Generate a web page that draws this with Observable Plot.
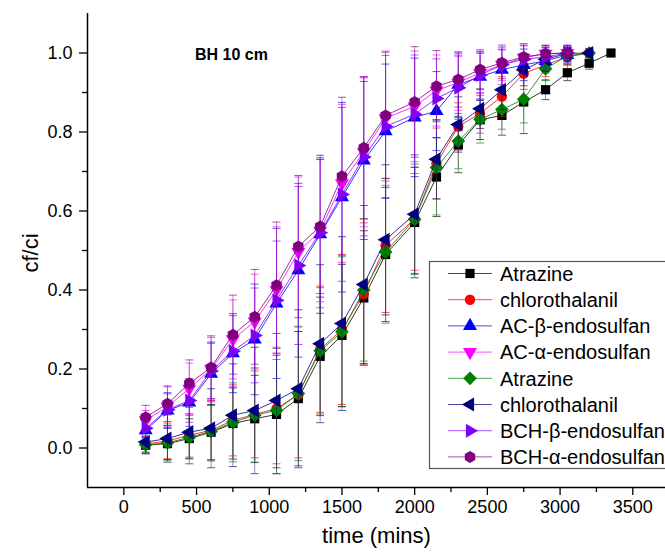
<!DOCTYPE html>
<html><head><meta charset="utf-8">
<script src="https://cdn.jsdelivr.net/npm/d3@7"></script>
<script src="https://cdn.jsdelivr.net/npm/@observablehq/plot@0.6"></script>
<style>
body{margin:0;background:#fff}
#chart{position:relative;width:665px;height:556px;overflow:hidden;background:#fff}
</style>
</head><body><div id="chart"></div>
<script>
// ---------------- data ----------------
const times = [150,300,450,600,750,900,1050,1200,1350,1500,1650,1800,2000,2150,2300,2450,2600,2750,2900,3050,3200,3350];

const seriesNames = ["Atrazine","chlorothalanil","AC-β-endosulfan","AC-α-endosulfan","Atrazine","chlorothalanil","BCH-β-endosulfan","BCH-α-endosulfan"];
const seriesColors = ["#000000","#ff0000","#0000ff","#ff00ff","#008000","#000080","#8000ff","#800080"];
const seriesSymbols = ["square","circle","triangleUp","triangleDown","diamond","triangleLeft","triangleRight","hexagon"];

const atrazineAC   = [0.007,0.011,0.024,0.040,0.062,0.074,0.085,0.125,0.232,0.285,0.380,0.490,0.571,0.686,0.767,0.831,0.842,0.876,0.907,0.950,0.974,1.000];
const chloroAC     = [0.010,0.018,0.032,0.045,0.070,0.085,0.100,0.135,0.250,0.300,0.390,0.513,0.580,0.720,0.814,0.847,0.890,0.948,0.970,0.990,1.000];
const betaAC       = [0.045,0.095,0.115,0.188,0.240,0.275,0.366,0.450,0.541,0.635,0.728,0.802,0.837,0.853,0.920,0.940,0.958,0.970,0.980,0.995];
const alphaAC      = [0.070,0.105,0.150,0.200,0.275,0.320,0.400,0.496,0.550,0.670,0.750,0.835,0.865,0.905,0.925,0.950,0.970,0.988,0.998,1.000];
const atrazineBCH  = [0.008,0.013,0.027,0.042,0.065,0.083,0.095,0.138,0.246,0.294,0.400,0.496,0.579,0.710,0.777,0.832,0.857,0.883,0.960,0.993,1.000];
const chloroBCH    = [0.015,0.024,0.040,0.050,0.083,0.095,0.120,0.150,0.264,0.315,0.414,0.527,0.592,0.731,0.819,0.859,0.907,0.957,0.984,0.999,1.000];
const betaBCH      = [0.050,0.097,0.120,0.195,0.245,0.285,0.374,0.462,0.545,0.642,0.737,0.814,0.845,0.885,0.912,0.944,0.970,0.984,0.990,1.000];
const alphaBCH     = [0.078,0.112,0.163,0.204,0.287,0.332,0.412,0.510,0.561,0.688,0.760,0.842,0.876,0.916,0.933,0.958,0.975,0.990,0.998,1.000];

const errAtrazineAC  = [0.02,0.04,0.05,0.07,0.09,0.11,0.15,0.17,0.15,0.18,0.17,0.17,0.14,0.10,0.07,0.05,0.05,0.08,0.025,0.02,0.015,0.005];
const errChloroAC    = [0.02,0.045,0.055,0.075,0.09,0.11,0.14,0.16,0.16,0.19,0.18,0.17,0.13,0.09,0.06,0.05,0.05,0.04,0.03,0.02,0.01];
const errBetaAC      = [0.02,0.045,0.06,0.08,0.10,0.14,0.19,0.22,0.20,0.24,0.20,0.17,0.15,0.10,0.08,0.06,0.05,0.04,0.03,0.02];
const errAlphaAC     = [0.025,0.05,0.065,0.08,0.10,0.12,0.16,0.19,0.18,0.20,0.19,0.17,0.14,0.09,0.07,0.05,0.04,0.03,0.02,0.015];
const errAtrazineBCH = [0.02,0.045,0.055,0.075,0.10,0.12,0.16,0.17,0.16,0.19,0.18,0.18,0.14,0.12,0.07,0.06,0.05,0.06,0.03,0.02,0.01];
const errChloroBCH   = [0.03,0.06,0.08,0.10,0.13,0.16,0.17,0.20,0.20,0.22,0.20,0.19,0.15,0.10,0.07,0.05,0.05,0.04,0.03,0.02,0.01];
const errBetaBCH     = [0.02,0.04,0.055,0.07,0.09,0.12,0.15,0.20,0.19,0.22,0.20,0.18,0.15,0.10,0.08,0.06,0.05,0.04,0.03,0.02];
const errAlphaBCH    = [0.03,0.045,0.06,0.08,0.10,0.12,0.16,0.18,0.17,0.20,0.18,0.16,0.14,0.09,0.07,0.05,0.04,0.03,0.02,0.015];

const seriesValues = [atrazineAC, chloroAC, betaAC, alphaAC, atrazineBCH, chloroBCH, betaBCH, alphaBCH];
const seriesErrors = [errAtrazineAC, errChloroAC, errBetaAC, errAlphaAC, errAtrazineBCH, errChloroBCH, errBetaBCH, errAlphaBCH];

const xTicks = [0,500,1000,1500,2000,2500,3000,3500];
const xMinorTicks = [250,750,1250,1750,2250,2750,3250];
const yTicks = [0,0.2,0.4,0.6,0.8,1.0];
const yMinorTicks = [0.1,0.3,0.5,0.7,0.9];
const xDomain = [-250, 3725];
const yDomain = [-0.1, 1.1];
const xTitle = "time (mins)";
const yTitle = "cf/ci";
const annotation = [{label: "BH 10 cm", t: 740, v: 0.995}];

// ---------------- symbols ----------------
const s3 = Math.sqrt(3);
function triSym(rot) {
  return {draw(ctx, size) {
    const y = -Math.sqrt(size / (s3 * 3));
    let pts = [[0, y * 2], [-s3 * y, -y], [s3 * y, -y]];
    pts = pts.map(([px, py]) => rot === "down" ? [px, -py] : rot === "left" ? [py, px] : rot === "right" ? [-py, px] : [px, py]);
    ctx.moveTo(pts[0][0], pts[0][1]);
    ctx.lineTo(pts[1][0], pts[1][1]);
    ctx.lineTo(pts[2][0], pts[2][1]);
    ctx.closePath();
  }};
}
const hexSym = {draw(ctx, size) {
  const r = Math.sqrt(size / (1.5 * s3)) * 1.05;
  for (let i = 0; i < 6; i++) {
    const a = Math.PI / 6 + i * Math.PI / 3;
    const px = r * Math.cos(a), py = r * Math.sin(a);
    i ? ctx.lineTo(px, py) : ctx.moveTo(px, py);
  }
  ctx.closePath();
}};
const symbolMap = {
  square: d3.symbolSquare, circle: d3.symbolCircle,
  diamond: {draw(ctx, size){const r=Math.sqrt(size/2)*1.05;ctx.moveTo(0,-r);ctx.lineTo(r,0);ctx.lineTo(0,r);ctx.lineTo(-r,0);ctx.closePath();}},
  triangleUp: triSym("up"), triangleDown: triSym("down"), triangleLeft: triSym("left"), triangleRight: triSym("right"),
  hexagon: hexSym
};
const capSym = {draw(ctx, size) {const w = Math.sqrt(size / Math.PI); ctx.moveTo(-w, 0); ctx.lineTo(w, 0);}};

// ---------------- marks ----------------
const marks = [];
seriesValues.forEach((vals, i) => {
  const rows = vals.map((v, j) => ({t: times[j], v, e: seriesErrors[i][j]}));
  const c = seriesColors[i];
  marks.push(Plot.ruleX(rows, {x: "t", y1: d => d.v - d.e, y2: d => d.v + d.e, stroke: c, strokeWidth: 0.9, strokeOpacity: 0.5}));
  marks.push(Plot.dot(rows, {x: "t", y: d => d.v + d.e, symbol: capSym, r: 4, stroke: c, fill: "none", strokeWidth: 1, strokeOpacity: 0.65}));
  marks.push(Plot.dot(rows, {x: "t", y: d => d.v - d.e, symbol: capSym, r: 4, stroke: c, fill: "none", strokeWidth: 1, strokeOpacity: 0.65}));
  marks.push(Plot.line(rows, {x: "t", y: "v", stroke: c, strokeWidth: 1, strokeOpacity: 0.8}));
  marks.push(Plot.dot(rows, {x: "t", y: "v", symbol: symbolMap[seriesSymbols[i]], r: 5.2, fill: c, stroke: "none"}));
});

const chart = Plot.plot({
  width: 665, height: 556,
  marginLeft: 87, marginRight: 0, marginTop: 13, marginBottom: 69,
  x: {domain: xDomain},
  y: {domain: yDomain},
  style: {fontFamily: "'Liberation Sans', Arial, sans-serif", color: "black", background: "white", overflow: "visible"},
  marks: [
    Plot.axisX({ticks: xTicks, tickSize: 8, tickPadding: 5, fontSize: 18, tickFormat: d3.format("d"), label: null, strokeWidth: 1.3}),
    Plot.axisX({ticks: xMinorTicks, tickSize: 5, tickFormat: () => "", label: null, strokeWidth: 1.3}),
    Plot.axisY({ticks: yTicks, tickSize: 8, tickPadding: 7, fontSize: 18, tickFormat: d3.format(".1f"), label: null, strokeWidth: 1.3}),
    Plot.axisY({ticks: yMinorTicks, tickSize: 5, tickFormat: () => "", label: null, strokeWidth: 1.3}),
    Plot.ruleX([xDomain[0]], {stroke: "black", strokeWidth: 1.5}),
    Plot.ruleY([yDomain[0]], {stroke: "black", strokeWidth: 1.5}),
    ...marks,
    Plot.text(annotation, {x: "t", y: "v", text: "label", fontSize: 16, fontWeight: "bold"}),
    Plot.text([xTitle], {frameAnchor: "bottom", dy: 55, fontSize: 22}),
    Plot.text([yTitle], {frameAnchor: "left", rotate: -90, dx: -57, dy: 22, fontSize: 22})
  ]
});
document.getElementById("chart").appendChild(chart);

// ---------------- legend ----------------
const svg = d3.select(chart);
const lg = svg.append("g").attr("font-family", "'Liberation Sans', Arial, sans-serif").attr("text-anchor", "start");
lg.append("rect").attr("x", 429.5).attr("y", 261.5).attr("width", 300).attr("height", 207)
  .attr("fill", "white").attr("stroke", "#555").attr("stroke-width", 1.2);
seriesNames.forEach((name, i) => {
  const y = 273.5 + i * 26.2;
  const c = seriesColors[i];
  lg.append("line").attr("x1", 448).attr("x2", 492).attr("y1", y).attr("y2", y).attr("stroke", c).attr("stroke-width", 1).attr("stroke-opacity", 0.7);
  lg.append("path").attr("transform", `translate(470,${y})`).attr("d", d3.symbol(symbolMap[seriesSymbols[i]], Math.PI * 5.2 * 5.2)()).attr("fill", c);
  lg.append("text").attr("x", 500).attr("y", y).attr("dy", "0.36em").attr("font-size", 20).attr("fill", "black").attr("text-anchor", "start").text(name);
});
</script>
</body></html>
